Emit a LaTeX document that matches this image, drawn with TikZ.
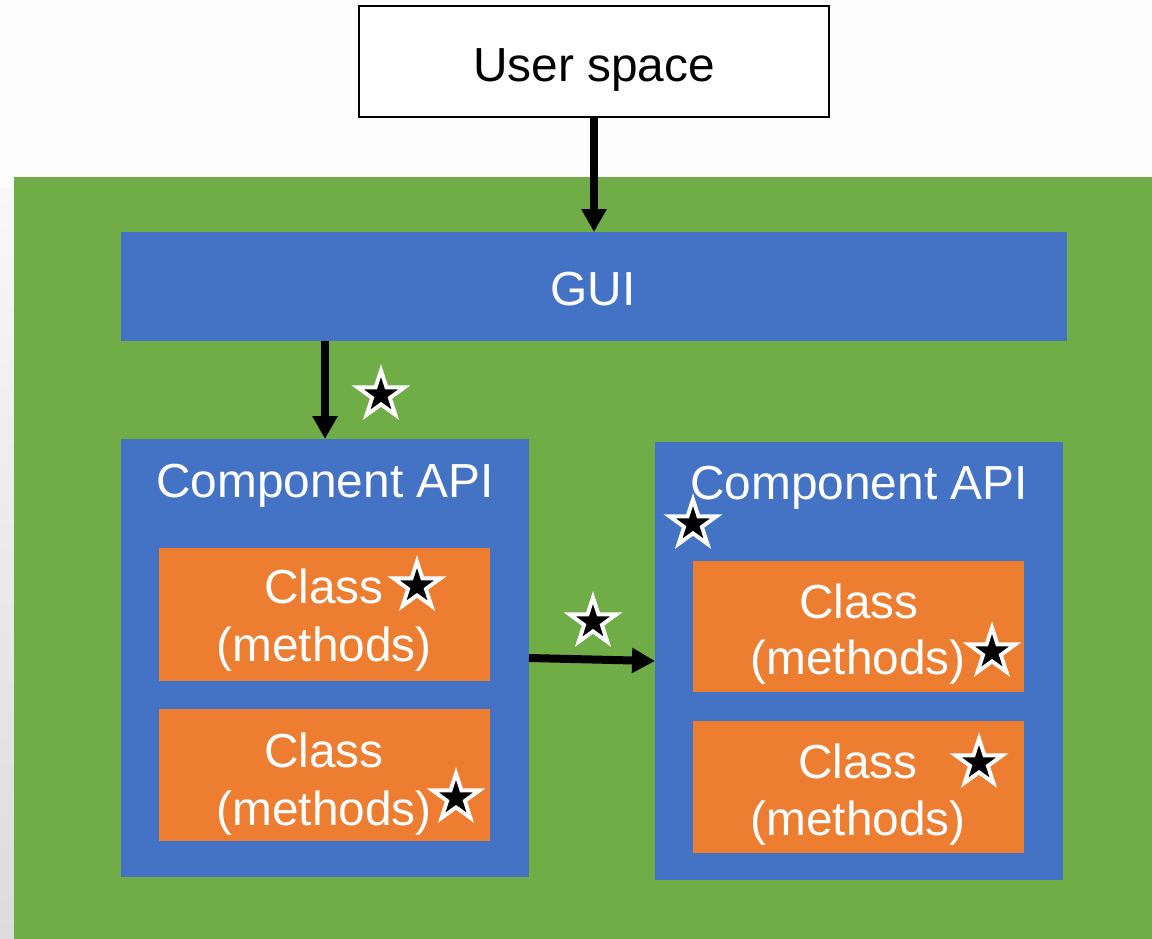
\documentclass[tikz,border=0pt]{standalone}
\usepackage{fontspec}
\setmainfont{Liberation Sans}
\usetikzlibrary{arrows.meta,shapes.geometric}
\definecolor{kgreen}{HTML}{70AD47}
\definecolor{kblue}{HTML}{4472C4}
\definecolor{korange}{HTML}{ED7D31}
\definecolor{bgc}{HTML}{FDFDFD}
\definecolor{stripTop}{HTML}{F8F8F8}
\definecolor{stripBot}{HTML}{DCDCDC}
\begin{document}
\begin{tikzpicture}[x=1pt,y=-1pt,
  box/.style={rectangle,inner sep=0pt,outer sep=0pt,anchor=north west},
  lbl/.style={font=\fontsize{47.8}{56}\selectfont,inner sep=0pt,anchor=base},
  wlbl/.style={lbl,text=white},
  flow/.style={line width=8pt,-{Triangle[width=24pt,length=23pt]}},
  starmark/.style={star,star points=5,star point ratio=2.618,minimum size=49pt,inner sep=0pt,outer sep=0pt,fill=black,draw=white,line width=3.9pt}
]
% background
\fill[bgc] (0,0) rectangle (1152,938);
\useasboundingbox (0,0) rectangle (1152,938);
\shade[top color=stripTop,bottom color=stripBot] (0,188) rectangle (14,938);

% containers
\node[box,fill=kgreen,minimum width=1150pt,minimum height=770pt] (kernel) at (14,177) {};
\node[box,draw=black,line width=1.5pt,fill=white,minimum width=470pt,minimum height=111pt] (user) at (359,6) {};
\node[box,fill=kblue,minimum width=946pt,minimum height=109pt] (gui) at (121,232) {};
\node[box,fill=kblue,minimum width=408pt,minimum height=438pt] (api1) at (121,439) {};
\node[box,fill=kblue,minimum width=408pt,minimum height=438pt] (api2) at (655,442) {};
\node[box,fill=korange,minimum width=331pt,minimum height=133pt] (c11) at (159,548) {};
\node[box,fill=korange,minimum width=331pt,minimum height=132pt] (c12) at (159,709) {};
\node[box,fill=korange,minimum width=331pt,minimum height=131pt] (c21) at (693,561) {};
\node[box,fill=korange,minimum width=331pt,minimum height=132pt] (c22) at (693,721) {};

% texts
\node[lbl] (tuser) at (594,81) {User space};
\node[wlbl] (tgui) at (593,305) {GUI};
\node[wlbl] (tapi1) at (325,497) {Component API};
\node[wlbl] (tapi2) at (859,499) {Component API};
\node[wlbl] (c11a) at (324,603) {Class};
\node[wlbl] (c11b) at (324,661) {(methods)};
\node[wlbl] (c12a) at (324,767) {Class};
\node[wlbl] (c12b) at (324,825) {(methods)};
\node[wlbl] (c21a) at (859,618) {Class};
\node[wlbl] (c21b) at (858,674) {(methods)};
\node[wlbl] (c22a) at (858,778) {Class};
\node[wlbl] (c22b) at (858,835) {(methods)};

% connectors
\draw[flow] (user.south) -- (gui.north);
\draw[flow] (gui.south -| api1.north) -- (api1.north);
\draw[flow] (api1.east) -- (api2.west);

% stars
\node[starmark] (s1) at (381,395) {};
\node[starmark] (s2) at (693,524) {};
\node[starmark] (s3) at (417,586) {};
\node[starmark] (s4) at (593,622) {};
\node[starmark] (s5) at (456,798) {};
\node[starmark] (s6) at (992,652) {};
\node[starmark] (s7) at (979,763) {};
\end{tikzpicture}
\end{document}
